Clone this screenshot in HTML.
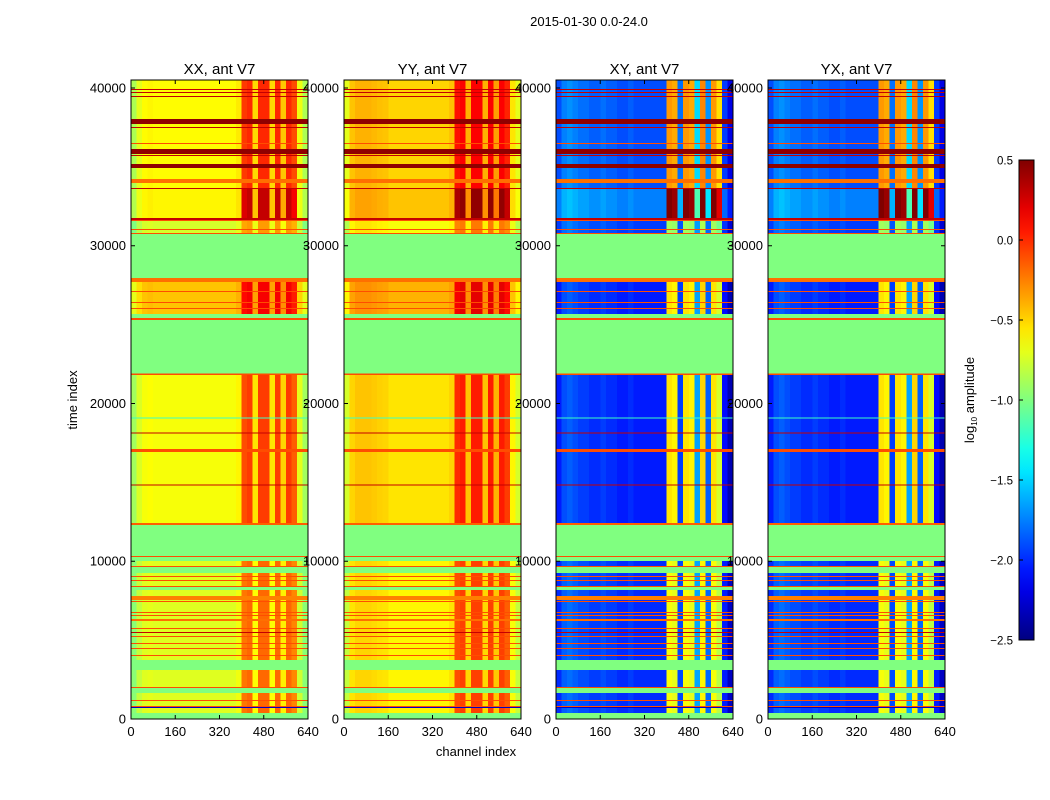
<!DOCTYPE html>
<html><head><meta charset="utf-8">
<style>
body{margin:0;background:#fff;}
svg{display:block;font-family:"Liberation Sans","DejaVu Sans",sans-serif;}
</style></head>
<body>
<svg id="fig" width="1050" height="800" viewBox="0 0 1050 800" xmlns="http://www.w3.org/2000/svg">
<rect width="1050" height="800" fill="#fff"/>
<text x="589" y="26" font-size="13" text-anchor="middle">2015-01-30 0.0-24.0</text>
<text x="77" y="400" font-size="13" text-anchor="middle" transform="rotate(-90 77 400)">time index</text>
<text x="476" y="756" font-size="13" text-anchor="middle">channel index</text>
<g id="panels"></g>
<g id="cbar"></g>
</svg>
<script>
// ---- data ----
const panelTitles = ["XX, ant V7","YY, ant V7","XY, ant V7","YX, ant V7"];
const yTicks = [0,10000,20000,30000,40000];
const xTicks = [0,160,320,480,640];
const cbarTicks = [0.5,0.0,-0.5,-1.0,-1.5,-2.0,-2.5];
// time segment edges (ascending) and type: f=flagged, l=line (value), d=data (zone index)
const segEdges = [0,380,697,761,824,1141,1204,1648,1965,2028,3106,3740,3994,4057,4437,4501,4754,4818,5198,5260,5450,5530,5700,5760,6212,6340,6529,6590,6719,6783,7417,7480,7543,7800,8177,8367,8431,8748,8811,9000,9063,9255,9635,9699,10016,10269,10333,12298,12425,14800,14860,16925,17115,18100,18160,19050,19110,21800,21900,25293,25420,25674,25990,26050,26371,26430,27068,27130,27702,27956,30745,30808,30998,31060,31569,31632,31759,33597,33660,33978,34231,34929,35182,35689,35752,35816,36133,36450,36513,37464,37527,37718,38035,39429,39492,39683,39746,39873,39936,40507];
const segType = ["f","d","l","l","d","l","d","f","l","d","f","d","l","d","l","d","l","d","l","d","l","d","l","d","l","d","l","d","l","d","l","d","l","d","f","l","d","l","d","l","d","f","l","d","f","l","f","l","d","l","d","l","d","l","d","l","d","l","f","l","f","d","l","d","l","d","l","d","l","f","l","d","l","d","l","l","d","l","d","l","d","l","d","l","d","l","d","l","d","l","d","l","d","l","d","l","d","l","d"];
const segValue = [0,0,-2.3,-0.1,0,-0.1,0,0,-0.1,0,0,0,-0.1,0,-0.1,0,-0.1,0,-0.1,0,0.3,0,-0.1,0,-0.2,0,-0.1,0,-0.1,0,-0.1,0,-0.25,0,0,-0.1,0,-0.1,0,-0.1,0,0,-0.1,0,0,-0.1,0,-0.15,1,0.3,1,-0.1,1,0.3,1,-1.2,1,-0.1,0,-0.1,0,2,-0.1,2,-0.1,2,-0.1,2,-0.2,0,-0.1,3,-0.1,3,-0.1,0.3,4,0.3,5,-0.2,5,0.45,5,0.3,5,0.45,5,-0.1,5,0.3,5,0.45,5,0.3,5,0.3,5,0.3,5];
// zone levels per panel
const zoneXX = [-0.72,-0.65,-0.45,-0.75,-0.6,-0.62];
const zoneYY = [-0.6,-0.55,-0.4,-0.65,-0.45,-0.5];
const zoneXY = [-2.0,-2.05,-2.05,-1.95,-1.75,-1.9];
const zoneYX = [-2.0,-2.05,-2.05,-1.95,-1.75,-1.9];
const zoneGain = [0.9,1.0,1.0,0.7,1.5,1.05];
// channel profiles (20-channel blocks)
const profXX = [-0.25,-0.08,0,0.02,0,0,0,0,0,0,0,0,0,0,0,0,0,0,0,0.05,0.55,0.6,0.1,0.6,0.6,0.1,0.6,0.15,0.6,0.5,-0.05,-0.25];
const profYY = [-0.2,0.05,0.1,0.1,0.1,0.08,0.06,0.05,0,0,0,0,0,0,0,0,0,0,0,0.05,0.55,0.6,0.1,0.6,0.6,0.1,0.6,0.15,0.6,0.5,-0.05,-0.2];
const profXY = [0.0,0.15,0.2,0.15,0.1,0.1,0.05,0.05,0.1,0.05,0.05,0,0,0.05,0,0,0,0,0,0,1.5,1.45,0.1,1.5,1.45,0.4,1.55,0.2,1.5,1.3,-0.05,-0.3];
const profYX = [0.0,0.15,0.2,0.15,0.1,0.1,0.05,0.05,0.1,0.05,0.05,0,0,0.05,0,0,0,0,0,0,1.5,1.45,0.1,1.5,1.45,0.4,1.55,0.2,1.5,1.3,-0.05,-0.3];
const zones = [zoneXX,zoneYY,zoneXY,zoneYX];
const profs = [profXX,profYY,profXY,profYX];

// ---- layout ----
const NS="http://www.w3.org/2000/svg";
const panelX = [131,344,556,768], pW = 177, pTop = 80, pBot = 719;
const tMax = 40507, chMax = 640, vmin=-2.5, vmax=0.5;
function yScale(t){return pBot - t/tMax*(pBot-pTop);}
function xScale(px,c){return px + c/chMax*pW;}
function jet(v){
  let n=(v-vmin)/(vmax-vmin); n=Math.max(0,Math.min(1,n));
  const c=x=>Math.round(255*Math.max(0,Math.min(1,1.5-Math.abs(x))));
  return `rgb(${c(4*n-3)},${c(4*n-2)},${c(4*n-1)})`;
}
function mk(tag,attrs,parent){const e=document.createElementNS(NS,tag);for(const k in attrs)e.setAttribute(k,attrs[k]);parent.appendChild(e);return e;}
const panels=document.getElementById('panels');
for(let p=0;p<4;p++){
  const g=mk('g',{},panels);
  
  
  const px=panelX[p];
  const nb=profs[p].length, bw=chMax/nb;
  for(let s=0;s<segType.length;s++){
    const y0=yScale(segEdges[s+1]), y1=yScale(segEdges[s]);
    const typ=segType[s];
    if(typ!=='d'){
      const r=mk('rect',{x:px,y:y0,width:pW,height:y1-y0,fill:typ==='f'?jet(-1.0):jet(segValue[s]),'shape-rendering':'crispEdges'},g);
      
      
      continue;
    }
    const z=segValue[s];
    for(let b=0;b<nb;b++){
      const v=zones[p][z]+profs[p][b]*(b>=20&&b<=30?zoneGain[z]:1);
      const x0=xScale(px,b*bw), x1=xScale(px,(b+1)*bw);
      const r=mk('rect',{x:x0,y:y0,width:x1-x0+0.3,height:y1-y0,fill:jet(v),'shape-rendering':'crispEdges'},g);
      
      
    }
  }
  const fr=mk('rect',{x:px,y:pTop,width:pW,height:pBot-pTop,fill:'none',stroke:'#000','stroke-width':1},g);
  
  
  const tt=mk('text',{x:px+pW/2,y:74,'font-size':15,'text-anchor':'middle'},g);
  tt.textContent=panelTitles[p];
  
  
  for(const t of yTicks){
    const y=yScale(t);
    mk('line',{x1:px,x2:px+4,y1:y,y2:y,stroke:'#000'},g);
    mk('line',{x1:px+pW,x2:px+pW-4,y1:y,y2:y,stroke:'#000'},g);
    const tx=mk('text',{x:px-5,y:y+4.5,'font-size':13,'text-anchor':'end'},g);
    tx.textContent=String(t);
    
    
  }
  for(const c of xTicks){
    const x=xScale(px,c);
    mk('line',{x1:x,x2:x,y1:pBot,y2:pBot-4,stroke:'#000'},g);
    mk('line',{x1:x,x2:x,y1:pTop,y2:pTop+4,stroke:'#000'},g);
    const tx=mk('text',{x:x,y:736,'font-size':13,'text-anchor':'middle'},g);
    tx.textContent=String(c);
    
    
  }
}
// colorbar
const cb=document.getElementById('cbar');
const cbX=1019,cbW=15,cbT=160,cbB=640;
const defs=mk('defs',{},cb);
const grad=mk('linearGradient',{id:'jetg',x1:0,y1:1,x2:0,y2:0},defs);
for(let i=0;i<=20;i++){const v=vmin+(vmax-vmin)*i/20;mk('stop',{offset:i/20,'stop-color':jet(v)},grad);}
mk('rect',{x:cbX,y:cbT,width:cbW,height:cbB-cbT,fill:'url(#jetg)',stroke:'#000'},cb);
for(const v of cbarTicks){
  const y=cbB-(v-vmin)/(vmax-vmin)*(cbB-cbT);
  mk('line',{x1:cbX,x2:cbX+4,y1:y,y2:y,stroke:'#000'},cb);
  const tx=mk('text',{x:1013,y:y+4.5,'font-size':11.5,'text-anchor':'end'},cb);
  tx.textContent=(v<0?'\u2212':'')+Math.abs(v).toFixed(1);
  
  
}
const cl=mk('text',{x:974,y:400,'font-size':13,'text-anchor':'middle',transform:'rotate(-90 974 400)'},cb);
cl.innerHTML='log<tspan font-size="8" dy="3">10</tspan><tspan dy="-3"> amplitude</tspan>';


</script>
</body></html>
